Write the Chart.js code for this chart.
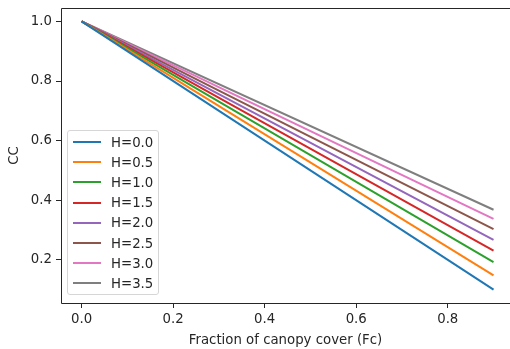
<!DOCTYPE html>
<html>
<head>
<meta charset="utf-8">
<script src="https://cdn.jsdelivr.net/npm/chart.js@4.4.1/dist/chart.umd.min.js"></script>
<style>
    html, body { margin: 0; padding: 0; background: #fff; overflow: hidden; }
    #wrap { position: relative; width: 510px; height: 349px; }
    #legend {
        position: absolute; left: 67px; top: 130px; width: 92px; height: 165px;
        border: 1px solid #d6d6d6; border-radius: 3px; background: rgba(255, 255, 255, 0.8);
        font: 13.3px "DejaVu Sans", sans-serif; color: #262626; box-sizing: border-box;
        padding-top: 1px;
    }
    #legend .row { height: 20.2px; display: flex; align-items: center; }
    #legend .swatch { width: 28px; height: 2px; margin-left: 5px; margin-right: 10px; }
</style>
</head>
<body>
<div id="wrap">
    <canvas id="chart" width="510" height="349"></canvas>
    <div id="legend"></div>
</div>
<script>
// fraction of canopy cover, start and end of each line
const fcValues = [0.0, 0.9];

const seriesLabels = ["H=0.0", "H=0.5", "H=1.0", "H=1.5", "H=2.0", "H=2.5", "H=3.0", "H=3.5"];
const ccH00 = [1.0, 0.100];
const ccH05 = [1.0, 0.148];
const ccH10 = [1.0, 0.192];
const ccH15 = [1.0, 0.231];
const ccH20 = [1.0, 0.267];
const ccH25 = [1.0, 0.303];
const ccH30 = [1.0, 0.337];
const ccH35 = [1.0, 0.368];

const xTickValues = [0.0, 0.2, 0.4, 0.6, 0.8];
const yTickValues = [0.2, 0.4, 0.6, 0.8, 1.0];

const colors = ["#1f77b4", "#ff7f0e", "#2ca02c", "#d62728", "#9467bd", "#8c564b", "#e377c2", "#7f7f7f"];
const allSeries = [ccH00, ccH05, ccH10, ccH15, ccH20, ccH25, ccH30, ccH35];

const fontFamily = "'DejaVu Sans', sans-serif";
const textColor = "#262626";

const datasets = allSeries.map((vals, i) => ({
    label: seriesLabels[i],
    data: fcValues.map((x, j) => ({ x: x, y: vals[j] })),
    borderColor: colors[i],
    backgroundColor: colors[i],
    borderWidth: 2,
    pointRadius: 0,
    fill: false,
}));

// left, bottom and top spines drawn by hand; the right one is cut off in the reference
const spines = {
    id: "spines",
    afterDraw(chart) {
        const { ctx, chartArea } = chart;
        const l = Math.round(chartArea.left) + 0.5;
        const t = Math.round(chartArea.top) + 0.5;
        const b = Math.round(chartArea.bottom) + 0.5;
        ctx.save();
        ctx.strokeStyle = "#262626";
        ctx.lineWidth = 1;
        ctx.beginPath();
        ctx.moveTo(chart.width + 2, t);
        ctx.lineTo(l, t);
        ctx.lineTo(l, b);
        ctx.lineTo(chart.width + 2, b);
        ctx.stroke();
        ctx.restore();
    },
};

const chart = new Chart(document.getElementById("chart"), {
    type: "line",
    data: { datasets: datasets },
    plugins: [spines],
    options: {
        responsive: false,
        animation: false,
        layout: { padding: { top: 8, left: 0, right: 0, bottom: 0 } },
        plugins: { legend: { display: false }, tooltip: { enabled: false } },
        scales: {
            x: {
                type: "linear",
                min: -0.045,
                max: 0.936,
                afterBuildTicks: (axis) => { axis.ticks = xTickValues.map((v) => ({ value: v })); },
                afterFit: (axis) => {
                    axis.height = 46;
                    axis.paddingLeft = 0;
                    axis.paddingRight = 0;
                },
                ticks: {
                    color: textColor,
                    font: { family: fontFamily, size: 13.3 },
                    padding: 4,
                    maxRotation: 0,
                    callback: (v) => v.toFixed(1),
                },
                grid: { drawOnChartArea: false, drawTicks: true, tickLength: 5, tickColor: "#262626" },
                border: { display: false },
                title: {
                    display: true,
                    text: "Fraction of canopy cover (Fc)",
                    color: textColor,
                    font: { family: fontFamily, size: 13.3 },
                    padding: { top: 0, bottom: 0 },
                },
            },
            y: {
                min: 0.055,
                max: 1.045,
                afterBuildTicks: (axis) => { axis.ticks = yTickValues.map((v) => ({ value: v })); },
                afterFit: (axis) => {
                    axis.width = 61;
                    axis.paddingTop = 0;
                    axis.paddingBottom = 0;
                },
                ticks: {
                    color: textColor,
                    font: { family: fontFamily, size: 13.3 },
                    padding: 4,
                    callback: (v) => v.toFixed(1),
                },
                grid: { drawOnChartArea: false, drawTicks: true, tickLength: 5, tickColor: "#262626" },
                border: { display: false },
                title: {
                    display: true,
                    text: "CC",
                    color: textColor,
                    font: { family: fontFamily, size: 13.3 },
                    padding: { top: 7, bottom: 0 },
                },
            },
        },
    },
});

// legend inside the axes, lower left like the reference
const legendBox = document.getElementById("legend");
chart.data.datasets.forEach((ds) => {
    const row = document.createElement("div");
    row.className = "row";
    const sw = document.createElement("span");
    sw.className = "swatch";
    sw.style.background = ds.borderColor;
    const txt = document.createElement("span");
    txt.textContent = ds.label;
    row.appendChild(sw);
    row.appendChild(txt);
    legendBox.appendChild(row);
});
</script>
</body>
</html>
